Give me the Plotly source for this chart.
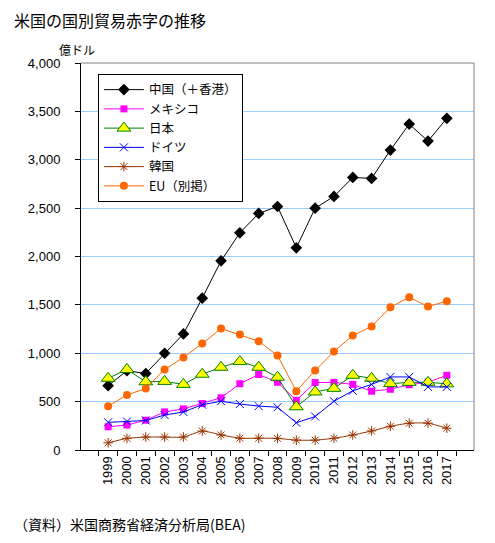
import plotly.graph_objects as go

years = [str(y) for y in range(1999, 2018)]
china = [665, 820, 790, 1000, 1200, 1569, 1955, 2245, 2445, 2517, 2090, 2500, 2621, 2817, 2807, 3100, 3369, 3193, 3428]
mexico = [240, 258, 308, 394, 425, 480, 540, 685, 780, 700, 514, 697, 699, 678, 608, 628, 674, 700, 772]
japan = [741, 832, 705, 709, 678, 783, 855, 914, 855, 752, 447, 600, 637, 772, 741, 686, 699, 700, 684]
germany = [286, 295, 305, 361, 393, 468, 504, 475, 454, 442, 282, 346, 504, 612, 678, 755, 755, 652, 652]
korea = [74, 120, 134, 134, 134, 196, 156, 122, 122, 120, 102, 102, 121, 155, 197, 245, 277, 277, 225]
eu = [452, 569, 635, 832, 957, 1100, 1255, 1193, 1124, 977, 608, 822, 1019, 1183, 1276, 1476, 1579, 1483, 1538]

names = ["中国（＋香港）", "メキシコ", "日本", "ドイツ", "韓国", "EU（別掲）"]

FONT = "Noto Sans CJK JP, Liberation Sans, sans-serif"
NUMFONT = "Liberation Sans, Arial, sans-serif"

fig = go.Figure()
fig.add_trace(go.Scatter(x=years, y=china, name=names[0], mode="lines+markers",
                         line=dict(color="black", width=1),
                         marker=dict(symbol="diamond", size=9, color="black")))
fig.add_trace(go.Scatter(x=years, y=mexico, name=names[1], mode="lines+markers",
                         line=dict(color="#ff00ff", width=1),
                         marker=dict(symbol="square", size=7, color="#ff00ff")))
fig.add_trace(go.Scatter(x=years, y=japan, name=names[2], mode="lines+markers",
                         line=dict(color="#008000", width=1),
                         marker=dict(symbol="triangle-up", size=12, color="#ffff00",
                                     line=dict(color="#008000", width=1))))
fig.add_trace(go.Scatter(x=years, y=germany, name=names[3], mode="lines+markers",
                         line=dict(color="#0000ff", width=1),
                         marker=dict(symbol="x-thin-open", size=8, color="#0000ff",
                                     line=dict(color="#0000ff", width=1))))
fig.add_trace(go.Scatter(x=years, y=korea, name=names[4], mode="lines+markers",
                         line=dict(color="#993300", width=1, shape="spline", smoothing=0.6),
                         marker=dict(symbol="asterisk-open", size=8, color="#993300",
                                     line=dict(color="#993300", width=1))))
fig.add_trace(go.Scatter(x=years, y=eu, name=names[5], mode="lines+markers",
                         line=dict(color="#ff6600", width=1),
                         marker=dict(symbol="circle", size=8, color="#ff6600")))

fig.update_layout(
    width=478, height=526,
    margin=dict(l=73, r=12, t=55, b=84),
    paper_bgcolor="white", plot_bgcolor="white",
    font=dict(family=FONT, size=12, color="black"),
    showlegend=True,
    legend=dict(x=0.043, y=0.9716, xanchor="left", yanchor="top",
                bgcolor="white", bordercolor="black", borderwidth=1,
                font=dict(family=FONT, size=12.5, color="black"),
                tracegroupgap=0, itemwidth=40),
    xaxis=dict(type="category", showline=True, linecolor="black", linewidth=1,
               ticks="outside", ticklen=5, tickcolor="black", tickson="boundaries",
               tickangle=-90, showgrid=False, zeroline=False,
               tickfont=dict(family=NUMFONT, size=13)),
    yaxis=dict(range=[0, 4000], dtick=500, tickformat=",", showline=True,
               linecolor="black", linewidth=1, ticks="outside", ticklen=5,
               tickcolor="black", showgrid=True, gridcolor="#99ccff", gridwidth=1,
               zeroline=False, ticklabelstandoff=12,
               tickfont=dict(family=NUMFONT, size=13)),
    shapes=[
        dict(type="line", xref="paper", yref="paper", x0=0, x1=1, y0=1, y1=1,
             line=dict(color="#808080", width=1)),
        dict(type="line", xref="paper", yref="paper", x0=1, x1=1, y0=0, y1=1,
             line=dict(color="#808080", width=1)),
    ],
    annotations=[
        dict(text="米国の国別貿易赤字の推移", xref="paper", yref="paper",
             x=-0.1756, y=1.111, xanchor="left", yanchor="middle", showarrow=False,
             font=dict(family=FONT, size=16)),
        dict(text="億ドル", xref="paper", yref="paper",
             x=-0.061, y=1.034, xanchor="left", yanchor="middle", showarrow=False,
             font=dict(family=FONT, size=12)),
        dict(text="（資料）米国商務省経済分析局(BEA)", xref="paper", yref="paper",
             x=-0.1756, y=-0.191, xanchor="left", yanchor="middle", showarrow=False,
             font=dict(family=FONT, size=14)),
    ],
)

fig.write_html("out.html")
